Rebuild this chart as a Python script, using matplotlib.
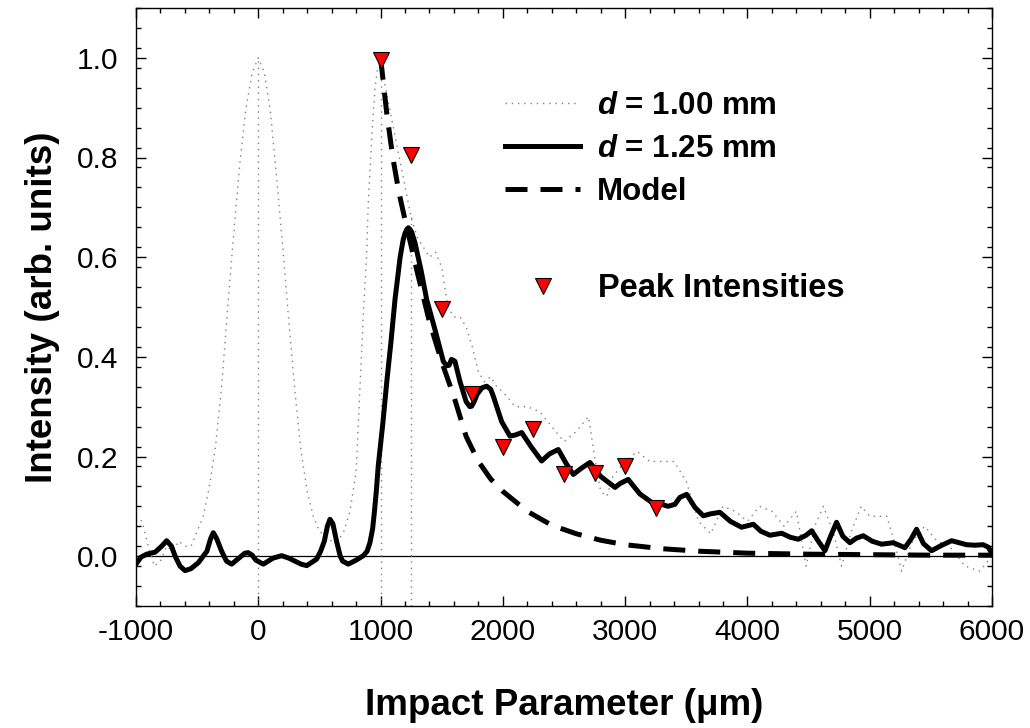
import numpy as np
import matplotlib
matplotlib.use("Agg")
import matplotlib.pyplot as plt
from matplotlib.lines import Line2D

# d = 1.00 mm trace (dotted, grey)
dot_x = [-1000, -950, -900, -850, -800, -750, -700, -650, -600, -550, -500, -450,
         -400, -350, -300, -250, -200, -150, -100, -50, 0, 50, 100, 150, 200, 250,
         300, 350, 400, 450, 500, 550, 600, 650, 700, 750, 800, 830, 860, 885, 900,
         930, 955, 975, 1000, 1250, 1300, 1350, 1400, 1450, 1500, 1550, 1600, 1650,
         1700, 1750, 1800, 1850, 1900, 1950, 2000, 2100, 2200, 2300, 2400, 2500,
         2600, 2700, 2750, 2800, 2850, 2900, 3000, 3100, 3200, 3300, 3400, 3500,
         3600, 3700, 3800, 3900, 4000, 4100, 4200, 4300, 4400, 4480, 4550, 4620,
         4700, 4770, 4850, 4930, 5000, 5140, 5200, 5260, 5350, 5450, 5550, 5650,
         5780, 5900, 6000]
dot_y = [0.08, 0.07, 0.02, -0.02, -0.01, 0.02, 0.01, 0.03, 0.02, 0.02, 0.05, 0.08,
         0.14, 0.22, 0.34, 0.50, 0.65, 0.79, 0.90, 0.97, 1.00, 0.97, 0.89, 0.76, 0.62,
         0.47, 0.33, 0.21, 0.13, 0.08, 0.05, 0.04, 0.03, 0.03, 0.05, 0.09, 0.17, 0.33,
         0.49, 0.60, 0.71, 0.85, 0.94, 0.98, 0.99, 0.68, 0.64, 0.62, 0.60, 0.61, 0.58,
         0.50, 0.48, 0.48, 0.46, 0.42, 0.37, 0.35, 0.36, 0.34, 0.33, 0.30, 0.30, 0.29,
         0.26, 0.23, 0.25, 0.28, 0.20, 0.13, 0.12, 0.16, 0.19, 0.21, 0.19, 0.19, 0.19,
         0.15, 0.07, 0.045, 0.10, 0.09, 0.07, 0.10, 0.09, 0.06, 0.09, -0.02, 0.06,
         0.10, 0.05, -0.02, 0.05, 0.10, 0.08, 0.08, 0.03, -0.03, 0.03, 0.06, 0.03,
         0.02, -0.02, -0.03, 0.0]

# drop lines of the dotted trace
drop_x = [0, 1000, 1250]
drop_top = [1.0, 0.99, 0.68]

# d = 1.25 mm trace (solid)
sol_x = [-1000, -960, -913, -844, -790, -749, -710, -680, -640, -599, -550, -490,
         -420, -390, -368, -340, -300, -260, -218, -150, -110, -82, -50, -20, 41,
         120, 191, 250, 300, 350, 396, 477, 510, 540, 565, 586, 610, 640, 670, 690,
         736, 800, 859, 890, 913, 935, 950, 965, 981, 1000, 1020, 1050, 1085, 1118,
         1160, 1185, 1200, 1215, 1227, 1240, 1255, 1281, 1330, 1377, 1450, 1513,
         1540, 1560, 1580, 1608, 1650, 1700, 1730, 1745, 1765, 1790, 1830, 1868,
         1900, 1922, 1990, 2058, 2100, 2154, 2230, 2317, 2380, 2453, 2520, 2576,
         2640, 2712, 2800, 2917, 2960, 3025, 3120, 3217, 3300, 3350, 3407, 3448,
         3503, 3570, 3639, 3700, 3775, 3860, 3952, 4048, 4110, 4184, 4280, 4350,
         4415, 4480, 4525, 4580, 4634, 4680, 4729, 4780, 4838, 4890, 4947, 5020,
         5097, 5192, 5288, 5340, 5383, 5440, 5506, 5590, 5670, 5730, 5792, 5860,
         5928, 5970, 6000]
sol_y = [-0.016, -0.002, 0.004, 0.008, 0.02, 0.031, 0.02, 0.0, -0.02, -0.029,
         -0.025, -0.013, 0.01, 0.035, 0.047, 0.035, 0.01, -0.01, -0.016, -0.002,
         0.006, 0.007, 0.002, -0.008, -0.016, -0.004, 0.001, -0.004, -0.01, -0.016,
         -0.019, -0.006, 0.01, 0.03, 0.06, 0.074, 0.065, 0.03, 0.0, -0.01, -0.016,
         -0.008, 0.001, 0.01, 0.027, 0.055, 0.09, 0.13, 0.181, 0.225, 0.27, 0.348,
         0.43, 0.515, 0.60, 0.635, 0.648, 0.656, 0.659, 0.656, 0.65, 0.629, 0.575,
         0.515, 0.45, 0.391, 0.382, 0.383, 0.395, 0.391, 0.35, 0.31, 0.300, 0.301,
         0.31, 0.325, 0.338, 0.341, 0.335, 0.321, 0.27, 0.241, 0.243, 0.248, 0.22,
         0.191, 0.205, 0.214, 0.185, 0.164, 0.176, 0.188, 0.16, 0.138, 0.146, 0.154,
         0.125, 0.108, 0.104, 0.100, 0.104, 0.118, 0.124, 0.098, 0.081, 0.085, 0.088,
         0.07, 0.058, 0.064, 0.05, 0.042, 0.046, 0.038, 0.034, 0.042, 0.051, 0.03,
         0.011, 0.04, 0.068, 0.04, 0.027, 0.036, 0.041, 0.03, 0.024, 0.027, 0.017,
         0.035, 0.054, 0.025, 0.011, 0.022, 0.031, 0.027, 0.023, 0.022, 0.023, 0.018,
         0.005]

# model (dashed)
mod_x = [1000, 1050, 1100, 1150, 1200, 1300, 1400, 1500, 1600, 1700, 1800, 1900,
         2000, 2200, 2400, 2600, 2800, 3000, 3300, 3600, 4000, 4500, 5000, 5500, 6000]
mod_y = [1.0, 0.89, 0.80, 0.73, 0.675, 0.57, 0.47, 0.39, 0.32, 0.24, 0.19, 0.155,
         0.13, 0.09, 0.062, 0.045, 0.032, 0.023, 0.015, 0.01, 0.006, 0.004, 0.003,
         0.002, 0.002]

# peak intensities
peak_x = [1000, 1250, 1500, 1750, 2000, 2250, 2500, 2750, 3000, 3250]
peak_y = [0.995, 0.806, 0.495, 0.325, 0.22, 0.256, 0.165, 0.166, 0.18, 0.097]

plt.rcParams['font.family'] = ['Liberation Sans', 'DejaVu Sans']
plt.rcParams['mathtext.fontset'] = 'custom'
plt.rcParams['mathtext.it'] = 'Liberation Sans:italic:bold'
plt.rcParams['mathtext.rm'] = 'Liberation Sans:bold'
plt.rcParams['axes.unicode_minus'] = False

fig = plt.figure(figsize=(10.3, 7.28), dpi=100)
ax = fig.add_axes([136 / 1030, 1 - 606 / 728, 856 / 1030, 598 / 728])

ax.axhline(0, color='black', lw=0.9, zorder=1)
ax.plot(dot_x, dot_y, color='#808080', lw=1.0, ls=(0, (1, 3.5)), zorder=2)
ax.vlines(drop_x, -0.1, drop_top, color='#808080', lw=1.0, ls=(0, (1, 3.5)), zorder=2)
ax.plot(sol_x, sol_y, color='black', lw=3.6, solid_joinstyle='round',
        solid_capstyle='round', zorder=3)
ax.plot(mod_x, mod_y, color='black', lw=3.6, dashes=(4.4, 2.6), zorder=3)
ax.plot(peak_x, peak_y, ls='none', marker='v', ms=11.5, mfc='red', mec='black',
        mew=0.8, zorder=4)

ax.set_xlim(-1000, 6000)
ax.set_ylim(-0.1, 1.1)
ax.set_xticks(np.arange(-1000, 6001, 1000))
ax.set_xticks(np.arange(-1000, 6001, 200), minor=True)
ax.set_yticks([0.0, 0.2, 0.4, 0.6, 0.8, 1.0])
ax.set_yticks(np.arange(-0.1, 1.1001, 0.04), minor=True)
ax.set_yticklabels(['0.0', '0.2', '0.4', '0.6', '0.8', '1.0'])
ax.tick_params(which='both', direction='in', top=True, right=True, width=1)
ax.tick_params(which='major', length=7, labelsize=21.5)
ax.tick_params(which='minor', length=3.5)
ax.tick_params(axis='x', pad=9)
ax.tick_params(axis='y', pad=13)
for sp in ax.spines.values():
    sp.set_linewidth(1)

ax.set_xlabel('Impact Parameter (μm)', fontsize=26.5, fontweight='bold', labelpad=30)
ax.set_ylabel('Intensity (arb. units)', fontsize=26.5, fontweight='bold', labelpad=12)

handles = [Line2D([], [], color='#808080', lw=1.0, ls=(0, (1, 3.5))),
           Line2D([], [], color='black', lw=3.6),
           Line2D([], [], color='black', lw=3.6, dashes=(4.4, 2.6))]
labels = [r'$d$ = 1.00 mm', r'$d$ = 1.25 mm', 'Model']
leg1 = ax.legend(handles, labels, loc='upper left', frameon=False,
                 prop={'weight': 'bold', 'size': 22.5}, handlelength=2.4,
                 handletextpad=0.55, labelspacing=0.42, borderpad=0, borderaxespad=0,
                 bbox_to_anchor=(505 / 1030, 1 - 91 / 728), bbox_transform=fig.transFigure)
ax.add_artist(leg1)
ph = [Line2D([], [], ls='none', marker='v', ms=11.5, mfc='red', mec='black', mew=0.8)]
ax.legend(ph, ['Peak Intensities'], loc='upper left', frameon=False,
          prop={'weight': 'bold', 'size': 23.5}, handlelength=2.3, handletextpad=0.55,
          borderpad=0, borderaxespad=0, numpoints=1,
          bbox_to_anchor=(505 / 1030, 1 - 273 / 728), bbox_transform=fig.transFigure)

fig.savefig('out.png', dpi=100)
